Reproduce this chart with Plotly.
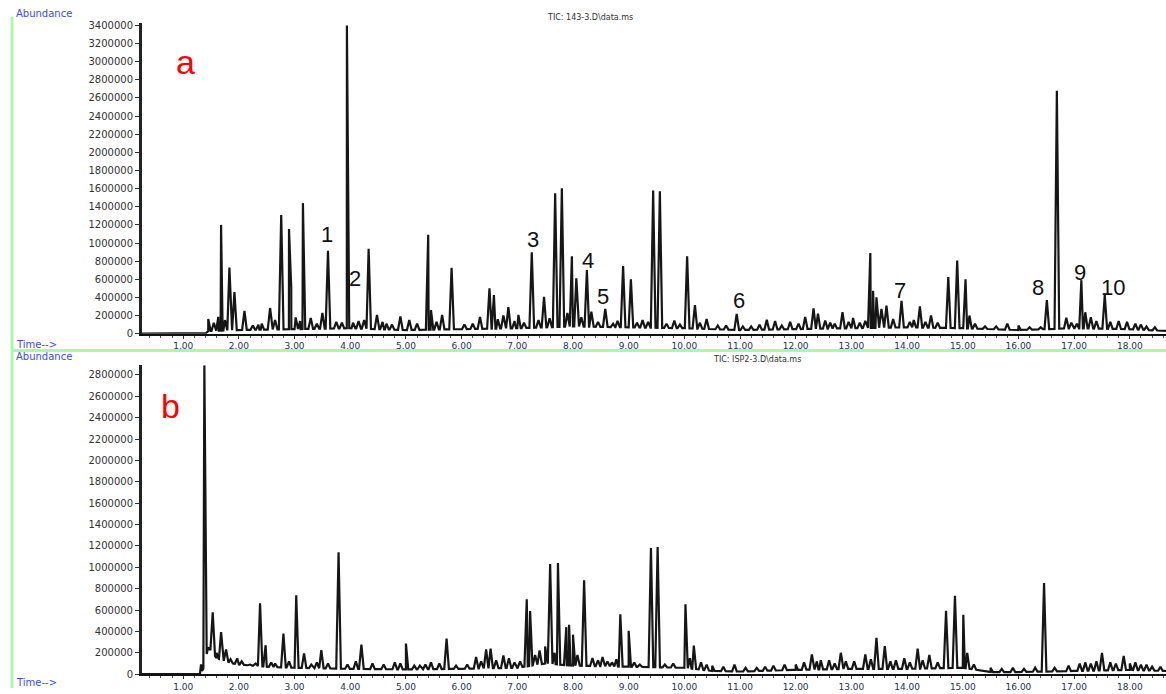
import numpy as np
import plotly.graph_objects as go

# ---------------- data (retention time in min, abundance) ----------------
top_title = "TIC: 143-3.D\\data.ms"
bottom_title = "TIC: ISP2-3.D\\data.ms"

top_base_t = [0.26, 1.40, 1.45, 2.0, 3.0, 4.0, 5.0, 6.0, 7.0, 8.0, 9.0, 10.0, 11.0, 12.0, 13.0, 14.0, 15.0, 16.0, 17.0, 18.0, 18.65]
top_base_v = [0, 0, 30000, 40000, 50000, 60000, 40000, 50000, 60000, 80000, 70000, 60000, 40000, 50000, 60000, 70000, 60000, 40000, 60000, 50000, 30000]

top_peak_t = [1.45, 1.63, 1.68, 1.83, 1.92, 2.10, 2.41, 2.56, 2.65, 2.76, 2.90, 2.94, 3.02, 3.15, 3.29, 3.50, 3.60,
              3.85, 3.94, 3.98, 4.15, 4.33, 4.48, 4.65, 4.90, 5.06, 5.40, 5.45, 5.65, 5.82, 6.20, 6.33, 6.50, 6.58,
              6.75, 6.84, 7.02, 7.26, 7.48, 7.68, 7.80, 7.90, 7.98, 8.06, 8.25, 8.33, 8.58, 8.72, 8.90, 9.04, 9.25,
              9.44, 9.56, 9.82, 10.05, 10.19, 10.40, 10.60, 10.94, 11.20, 11.48, 11.63, 11.90, 12.17, 12.32, 12.40,
              12.53, 12.70, 12.84, 13.03, 13.34, 13.39, 13.45, 13.54, 13.63, 13.75, 13.90, 14.05, 14.23, 14.43,
              14.74, 14.90, 15.05, 15.12, 15.40, 15.80, 16.20, 16.51, 16.69, 16.86, 17.13, 17.20, 17.30, 17.40,
              17.55, 17.80, 17.95, 18.10, 18.30]
top_peak_h = [163, 185, 1200, 730, 458, 250, 110, 283, 150, 1310, 1155, 512, 180, 1440, 174, 229, 915,
              120, 3400, 490, 140, 937, 207, 110, 190, 152, 1090, 260, 207, 727, 110, 185, 501, 425,
              200, 294, 207, 897, 407, 1550, 1605, 230, 853, 610, 701, 243, 272, 110, 745, 600, 150,
              1580, 1570, 145, 853, 316, 163, 90, 218, 80, 152, 140, 130, 185, 280, 220,
              145, 110, 236, 174, 890, 472, 400, 272, 308, 160, 363, 130, 302, 200,
              625, 807, 600, 200, 80, 110, 70, 370, 2680, 175, 590, 236, 180, 140,
              425, 140, 130, 110, 80]  # thousands

top_minor_t = [1.55, 1.75, 2.25, 2.35, 3.10, 3.40, 3.75, 4.05, 4.25, 4.58, 4.75, 5.20, 5.55, 6.05, 6.65, 6.95,
               7.12, 7.38, 7.58, 8.15, 8.45, 8.80, 9.15, 9.35, 9.68, 9.92, 10.28, 10.75, 11.05, 11.35, 11.75,
               12.05, 12.62, 12.95, 13.15, 13.25, 14.12, 14.33, 14.55, 15.22, 15.60, 16.00, 16.40, 16.95, 17.05,
               17.65, 18.20, 18.45]
top_minor_h = [120, 150, 90, 100, 140, 110, 130, 120, 150, 130, 100, 110, 130, 100, 160, 140,
               120, 150, 170, 180, 130, 140, 120, 130, 110, 100, 120, 90, 80, 100, 90,
               110, 120, 130, 120, 140, 150, 130, 120, 110, 80, 90, 70, 120, 110,
               130, 100, 70]

bot_base_t = [0.26, 1.30, 1.36, 1.45, 1.6, 1.8, 2.0, 2.5, 3.0, 4.0, 5.0, 6.0, 7.0, 7.5, 8.0, 9.0, 10.0, 10.5, 11.0,
              12.0, 13.0, 14.0, 15.0, 15.5, 16.0, 17.0, 18.0, 18.65]
bot_base_v = [0, 0, 50000, 250000, 150000, 110000, 90000, 70000, 60000, 50000, 45000, 50000, 60000, 100000, 80000,
              70000, 60000, 30000, 25000, 40000, 50000, 50000, 60000, 20000, 20000, 30000, 40000, 30000]

bot_peak_t = [1.32, 1.38, 1.53, 1.68, 1.77, 1.97, 2.20, 2.38, 2.48, 2.65, 2.80, 3.03, 3.17, 3.30, 3.48, 3.79, 4.20,
              4.40, 4.80, 5.00, 5.25, 5.45, 5.73, 6.26, 6.44, 6.52, 6.75, 6.85, 7.17, 7.23, 7.40, 7.50, 7.59,
              7.73, 7.88, 7.93, 8.00, 8.20, 8.35, 8.53, 8.70, 8.85, 9.00, 9.20, 9.40, 9.52, 9.80, 10.02, 10.17,
              10.30, 10.50, 10.90, 11.30, 11.60, 11.80, 12.00, 12.29, 12.45, 12.60, 12.81, 12.90, 13.25, 13.45,
              13.60, 13.80, 13.95, 14.19, 14.40, 14.70, 14.86, 15.01, 15.08, 15.50, 15.90, 16.10, 16.46, 16.90,
              17.10, 17.20, 17.30, 17.50, 17.65, 17.89, 18.00, 18.20, 18.40]
bot_peak_h = [92, 2890, 579, 394, 231, 148, 90, 662, 271, 100, 379, 739, 194, 90, 225, 1140, 277,
              100, 110, 286, 80, 110, 333, 160, 231, 240, 175, 150, 700, 590, 222, 260, 1030,
              1040, 440, 462, 370, 878, 150, 160, 110, 561, 406, 90, 1180, 1190, 100, 653, 268,
              110, 80, 90, 60, 80, 90, 90, 185, 130, 130, 200, 120, 185, 339,
              262, 130, 150, 240, 180, 592, 733, 555, 200, 60, 60, 50, 853, 80,
              100, 110, 100, 200, 110, 170, 100, 90, 70]  # thousands

bot_minor_t = [1.60, 1.85, 2.05, 2.30, 2.58, 2.90, 3.40, 3.60, 3.95, 4.10, 4.60, 4.90, 5.15, 5.35, 5.60, 5.90,
               6.10, 6.35, 6.62, 6.95, 7.05, 7.32, 7.67, 8.08, 8.45, 8.62, 8.78, 9.10, 9.65, 10.10, 10.40, 10.70,
               11.10, 11.45, 12.15, 12.38, 12.70, 13.05, 13.35, 13.70, 14.05, 14.28, 14.55, 15.20, 15.70, 16.30,
               16.65, 17.40, 17.75, 18.10, 18.30, 18.55]
bot_minor_h = [200, 140, 120, 100, 110, 120, 110, 100, 90, 120, 90, 100, 80, 90, 100, 80,
               90, 120, 130, 110, 120, 180, 200, 180, 130, 120, 140, 110, 90, 150, 90, 70,
               60, 70, 110, 120, 100, 120, 140, 120, 110, 130, 110, 90, 50, 60,
               60, 120, 100, 110, 90, 70]

peak_labels = ["1", "2", "3", "4", "5", "6", "7", "8", "9", "10"]
label_t = [3.585, 4.09, 7.28, 8.27, 8.54, 10.98, 13.87, 16.35, 17.10, 17.70]
label_v = [1090000, 610000, 1035000, 806000, 414000, 370000, 480000, 512000, 676000, 512000]


def trace_xy(base_t, base_v, peak_lists, w=0.042):
    bt = np.array(base_t, float)
    bv = np.array(base_v, float)
    pts = list(zip(bt, bv))
    for pt, ph in peak_lists:
        for t, h in zip(pt, ph):
            for tt in (t - w, t + w):
                pts.append((tt, float(np.interp(tt, bt, bv))))
            pts.append((t, max(h * 1000.0, float(np.interp(t, bt, bv)))))
    pts.sort(key=lambda p: p[0])
    return [p[0] for p in pts], [p[1] for p in pts]


tx, ty = trace_xy(top_base_t, top_base_v, [(top_peak_t, top_peak_h), (top_minor_t, top_minor_h)])
bx, by = trace_xy(bot_base_t, bot_base_v, [(bot_peak_t, bot_peak_h), (bot_minor_t, bot_minor_h)])

W, H = 1166, 694
fig = go.Figure()
fig.add_trace(go.Scatter(x=tx, y=ty, mode="lines", line=dict(color="#161616", width=2.2),
                         xaxis="x", yaxis="y", hoverinfo="skip"))
fig.add_trace(go.Scatter(x=bx, y=by, mode="lines", line=dict(color="#161616", width=2.2),
                         xaxis="x2", yaxis="y2", hoverinfo="skip"))

xcommon = dict(range=[0.26, 18.65], tickmode="linear", tick0=1, dtick=1, tickformat=".2f",
               ticks="outside", ticklen=3, tickcolor="#333", showline=True, linecolor="#111", linewidth=2,
               showgrid=False, zeroline=False, tickfont=dict(size=9, color="#223355", family="DejaVu Sans"),
               minor=dict(dtick=0.2, ticks="outside", ticklen=2, tickcolor="#555"))
ycommon = dict(tickmode="linear", tick0=0, dtick=200000, tickformat="d", ticks="outside", ticklen=4,
               tickcolor="#333", showline=True, linecolor="#222", linewidth=3, showgrid=False, zeroline=False,
               tickfont=dict(size=10, color="#333333", family="DejaVu Sans"))

x0 = 142 / W
fig.update_layout(
    width=W, height=H, margin=dict(l=0, r=0, t=0, b=0),
    paper_bgcolor="white", plot_bgcolor="white", showlegend=False,
    xaxis=dict(domain=[x0, 1], anchor="y", **xcommon),
    yaxis=dict(domain=[1 - 335 / H, 1 - 20 / H], range=[0, 3.43e6], anchor="x", **ycommon),
    xaxis2=dict(domain=[x0, 1], anchor="y2", **xcommon),
    yaxis2=dict(domain=[1 - 680 / H, 1 - 367 / H], range=[0, 2.89e6], anchor="x2", **ycommon),
)

# green frame lines
fig.add_shape(type="line", xref="paper", yref="paper", x0=12 / W, x1=12 / W, y0=0, y1=1 - 14 / H,
              line=dict(color="#aef5ae", width=3))
fig.add_shape(type="line", xref="paper", yref="paper", x0=12 / W, x1=1, y0=1 - 352 / H, y1=1 - 352 / H,
              line=dict(color="#aef5ae", width=3))

ann = []
blue = "#3a4ef0"
for txt, px, py in [("Abundance", 14, 11), ("Time-->", 14, 346), ("Abundance", 14, 358), ("Time-->", 14, 688)]:
    ann.append(dict(text=txt, x=px / W, y=1 - py / H, xref="paper", yref="paper", xanchor="left",
                    yanchor="middle", showarrow=False, font=dict(size=10, color=blue, family="DejaVu Sans")))
ann.append(dict(text=top_title, x=590 / W, y=1 - 15 / H, xref="paper", yref="paper", showarrow=False,
                xanchor="center", yanchor="middle", font=dict(size=8, color="#333", family="DejaVu Sans")))
ann.append(dict(text=bottom_title, x=757 / W, y=1 - 361 / H, xref="paper", yref="paper", showarrow=False,
                xanchor="center", yanchor="middle", font=dict(size=8, color="#333", family="DejaVu Sans")))
ann.append(dict(text="a", x=185 / W, y=1 - 60 / H, xref="paper", yref="paper", showarrow=False,
                xanchor="center", yanchor="middle", font=dict(size=34, color="#ff0000", family="Liberation Sans")))
ann.append(dict(text="b", x=170 / W, y=1 - 408 / H, xref="paper", yref="paper", showarrow=False,
                xanchor="center", yanchor="middle", font=dict(size=34, color="#ff0000", family="Liberation Sans")))
for lab, lt, lv in zip(peak_labels, label_t, label_v):
    ann.append(dict(text=lab, x=lt, y=lv, xref="x", yref="y", showarrow=False, xanchor="center",
                    yanchor="middle", font=dict(size=22, color="#111", family="Liberation Sans")))
fig.update_layout(annotations=ann)

fig.write_html("out.html", config={"displayModeBar": False},
               post_script="document.body.style.margin='0px';document.body.style.overflow='hidden';")
